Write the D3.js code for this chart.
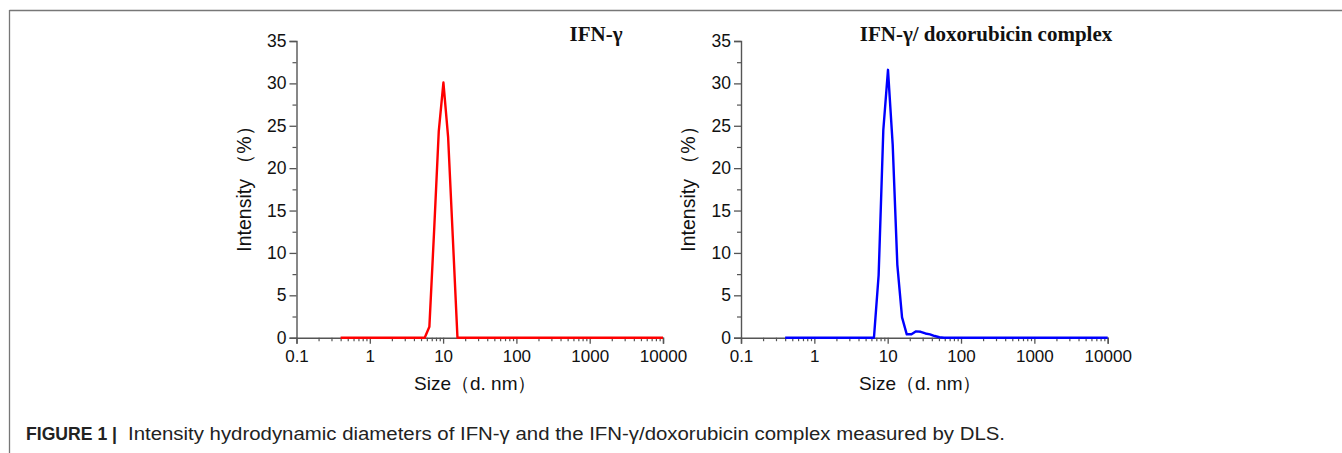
<!DOCTYPE html>
<html><head><meta charset="utf-8">
<script src="https://cdn.jsdelivr.net/npm/d3@7"></script>
<style>
html,body{margin:0;padding:0;background:#fff;}
svg{display:block;}
</style></head>
<body>
<svg id="chart" width="1342" height="453"></svg>
<script>
// ---- data ----
const ifnSize   = [0.4, 5.61, 6.5, 7.53, 8.72, 10.1, 11.7, 13.54, 15.7, 10000];
const ifnValue  = [0,   0,    1.3, 12.5, 24.3, 30.1, 23.7, 12.0,  0,    0];
const doxSize   = [0.4, 6.5, 7.53, 8.72, 10.1, 11.7, 13.54, 15.7, 18.2, 21.1, 24.4, 28.2, 32.7, 37.8, 43.8, 50.7, 58.8, 10000];
const doxValue  = [0,   0,   7.4,  24.5, 31.6, 22.8, 8.6,   2.4,  0.4,  0.4,  0.75, 0.7,  0.5,  0.4,  0.2,  0.05, 0,    0];
const xTickValues = [0.1, 1, 10, 100, 1000, 10000];
const xTickLabels = ["0.1", "1", "10", "100", "1000", "10000"];
const yTickValues = [0, 5, 10, 15, 20, 25, 30, 35];
const panelTitles = ["IFN-\u03b3", "IFN-\u03b3/ doxorubicin complex"];
const xTitle = "Size（d. nm）";
const yTitle = "Intensity （%）";
const captionLead = "FIGURE 1 | ";
const caption = "Intensity hydrodynamic diameters of IFN-\u03b3 and the IFN-\u03b3/doxorubicin complex measured by DLS.";

const svg = d3.select("#chart");
svg.append("rect").attr("width",1342).attr("height",453).attr("fill","#fff");

// frame
svg.append("line").attr("x1",9.5).attr("x2",1342).attr("y1",10.5).attr("y2",10.5).attr("stroke","#777").attr("stroke-width",1.3);
svg.append("line").attr("x1",9.5).attr("x2",9.5).attr("y1",10).attr("y2",453).attr("stroke","#777").attr("stroke-width",1.3);

const panels = [
  {x0:296.5, x1:663, size:ifnSize, value:ifnValue, color:"#ff0000", title:panelTitles[0], titleX:596, yLabX:251, xLabX:414},
  {x0:741, x1:1107.7, size:doxSize, value:doxValue, color:"#0000ff", title:panelTitles[1], titleX:986, yLabX:695, xLabX:859}
];
const yTop = 41, yBot = 337.7;
const axisColor = "#555";
const sans = "Liberation Sans, Arial, sans-serif";

panels.forEach(p => {
  const x = d3.scaleLog().domain([0.1, 10000]).range([p.x0, p.x1]);
  const y = d3.scaleLinear().domain([0, 35]).range([yBot, yTop]);
  const g = svg.append("g");

  // minor x ticks
  const minorX = [];
  for (let d = 0.1; d < 10000; d *= 10) for (let k = 2; k <= 9; k++) minorX.push(d * k);
  g.append("g").attr("transform",`translate(0,${yBot})`)
    .call(d3.axisBottom(x).tickValues(minorX).tickSize(3.5).tickFormat(""))
    .call(a => a.select(".domain").remove())
    .call(a => a.selectAll("line").attr("stroke",axisColor).attr("stroke-width",1.2));
  // major x ticks
  g.append("g").attr("transform",`translate(0,${yBot})`)
    .call(d3.axisBottom(x).tickValues(xTickValues).tickSize(6).tickPadding(6)
      .tickFormat((d,i) => xTickLabels[i]))
    .call(a => a.select(".domain").attr("stroke",axisColor).attr("stroke-width",1.4))
    .call(a => a.selectAll("line").attr("stroke",axisColor).attr("stroke-width",1.3))
    .call(a => a.selectAll("text").attr("fill","#111").attr("font-family",sans).attr("font-size",17));

  // minor y ticks
  g.append("g").attr("transform",`translate(${p.x0},0)`)
    .call(d3.axisLeft(y).tickValues(d3.range(2.5, 35, 5)).tickSize(4).tickFormat(""))
    .call(a => a.select(".domain").remove())
    .call(a => a.selectAll("line").attr("stroke",axisColor).attr("stroke-width",1.2));
  g.append("g").attr("transform",`translate(${p.x0},0)`)
    .call(d3.axisLeft(y).tickValues(yTickValues).tickSize(7).tickPadding(3).tickFormat(d3.format("d")))
    .call(a => a.select(".domain").attr("stroke",axisColor).attr("stroke-width",1.4))
    .call(a => a.selectAll("line").attr("stroke",axisColor).attr("stroke-width",1.3))
    .call(a => a.selectAll("text").attr("fill","#111").attr("font-family",sans).attr("font-size",17.5));

  // data line
  const pts = p.size.map((s,i) => [s, p.value[i]]);
  g.append("path").datum(pts)
    .attr("fill","none").attr("stroke",p.color).attr("stroke-width",2.4).attr("stroke-linejoin","round")
    .attr("d", d3.line().x(d => x(d[0])).y(d => y(d[1])));

  // titles
  g.append("text").attr("x",p.titleX).attr("y",41).attr("text-anchor","middle")
    .attr("font-family","Liberation Serif, Times New Roman, serif").attr("font-weight","bold").attr("font-size",21)
    .attr("fill","#111").text(p.title);
  g.append("text").attr("x",p.xLabX).attr("y",390).attr("text-anchor","start")
    .attr("font-family",sans).attr("font-size",19).attr("fill","#111").text(xTitle);
  g.append("text").attr("transform",`translate(${p.yLabX},184) rotate(-90)`).attr("text-anchor","middle")
    .attr("font-family",sans).attr("font-size",19.5).attr("fill","#111").text(yTitle);
});

// caption
svg.append("text").attr("x",26).attr("y",440)
  .attr("font-family",sans).attr("font-size",17.5).attr("font-weight","bold").attr("fill","#222")
  .attr("textLength",91).attr("lengthAdjust","spacingAndGlyphs").text(captionLead.trim());
svg.append("text").attr("x",128).attr("y",440)
  .attr("font-family",sans).attr("font-size",17.5).attr("fill","#222")
  .attr("textLength",877).attr("lengthAdjust","spacingAndGlyphs").text(caption);
</script>
</body></html>
